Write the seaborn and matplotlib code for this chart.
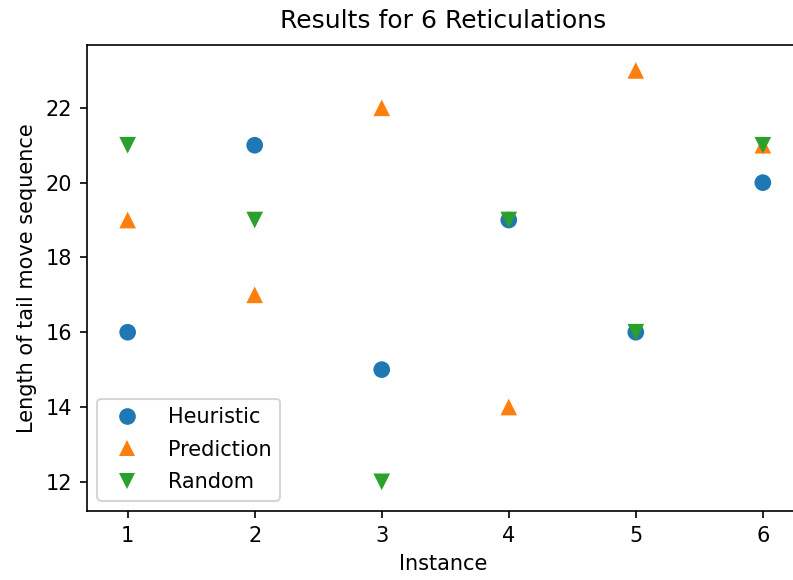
import matplotlib
matplotlib.use("Agg")
import matplotlib.pyplot as plt
import seaborn as sns
import pandas as pd

instances = [1, 2, 3, 4, 5, 6]
heuristic = [16, 21, 15, 19, 16, 20]
prediction = [19, 17, 22, 14, 23, 21]
random_vals = [21, 19, 12, 19, 16, 21]
methods = ["Heuristic", "Prediction", "Random"]

df = pd.DataFrame({
    "Instance": instances * 3,
    "Length": heuristic + prediction + random_vals,
    "Method": [m for m in methods for _ in instances],
})

fig = plt.figure(figsize=(793 / 150, 580 / 150), dpi=150)
ax = fig.add_axes([87 / 793, 1 - 511 / 580, 733 / 793, (511 - 45) / 580])

palette = {"Heuristic": "#1f77b4", "Prediction": "#ff7f0e", "Random": "#2ca02c"}
markers = {"Heuristic": "o", "Prediction": "^", "Random": "v"}
sns.scatterplot(data=df, x="Instance", y="Length", hue="Method", style="Method",
                palette=palette, markers=markers, s=64, linewidth=0, ax=ax)

ax.set_xlim(0.68, 6.45)
ax.set_ylim(11.22, 23.68)
ax.set_xticks(instances)
ax.set_yticks([12, 14, 16, 18, 20, 22])
ax.set_xlabel("Instance", x=(443 - 87) / 733)
ax.set_ylabel("Length of tail move sequence")
ax.set_title("Results for 6 Reticulations", pad=8, x=(443.5 - 87) / 733)

handles, labels = ax.get_legend_handles_labels()
ax.legend(handles, labels, loc="lower left", labelspacing=0.6, handletextpad=1.0)

fig.savefig("out.png", dpi=150)
